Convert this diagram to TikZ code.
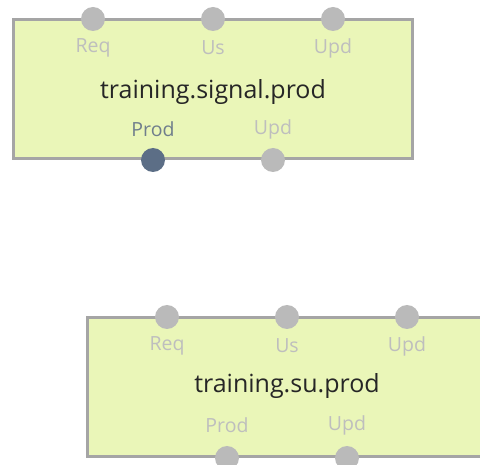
\documentclass[tikz,border=0pt]{standalone}
\usepackage{fontspec}
\setmainfont{Open Sans}
\usepackage{xcolor}
\usepackage{tikz}
\usetikzlibrary{shapes.geometric, positioning}

\definecolor{boxfill}{RGB}{234,246,184}
\definecolor{boxline}{RGB}{165,165,165}
\definecolor{portgray}{RGB}{186,186,186}
\definecolor{portdark}{RGB}{92,110,134}
\definecolor{labelgray}{RGB}{190,190,190}
\definecolor{labeldark}{RGB}{112,126,140}

\begin{document}
\begin{tikzpicture}[x=1pt, y=-1pt]
    % Styles
    \tikzstyle{block} = [rectangle, minimum width=399pt, minimum height=139pt, inner sep=0pt, draw=boxline, line width=3pt, fill=boxfill]
    \tikzstyle{title} = [font=\fontsize{25}{30}\selectfont, text=black!85]
    \tikzstyle{port} = [circle, minimum size=24pt, inner sep=0pt, fill=portgray]
    \tikzstyle{activeport} = [port, fill=portdark]
    \tikzstyle{portlabel} = [font=\fontsize{19.5}{23}\selectfont, text=labelgray]
    \tikzstyle{activelabel} = [portlabel, text=labeldark]

    \useasboundingbox (0,0) rectangle (480,465);
    \clip (0,0) rectangle (480,465);

    % Nodes
    \node (signal) [block] at (212.5,89.5) {};
    \node (signaltitle) [title] at (213,92) {training.signal.prod};
    \node (signalreq) [port] at (93,19) {};
    \node (signalus) [port] at (213,19) {};
    \node (signalupdin) [port] at (333,19) {};
    \node (signalprod) [activeport] at (153,160) {};
    \node (signalupdout) [port] at (273,160) {};
    \node [portlabel] at (93,48) {Req};
    \node [portlabel] at (213,48) {Us};
    \node [portlabel] at (333,48) {Upd};
    \node [activelabel] at (153,129) {Prod};
    \node [portlabel] at (273,129) {Upd};

    \node (su) [block] at (286.5,387.5) {};
    \node (sutitle) [title] at (287,386) {training.su.prod};
    \node (sureq) [port] at (167,317) {};
    \node (suus) [port] at (287,317) {};
    \node (suupdin) [port] at (407,317) {};
    \node (suprod) [port] at (227,458) {};
    \node (suupdout) [port] at (347,458) {};
    \node [portlabel] at (167,346) {Req};
    \node [portlabel] at (287,346) {Us};
    \node [portlabel] at (407,346) {Upd};
    \node [portlabel] at (227,425) {Prod};
    \node [portlabel] at (347,425) {Upd};
\end{tikzpicture}
\end{document}
